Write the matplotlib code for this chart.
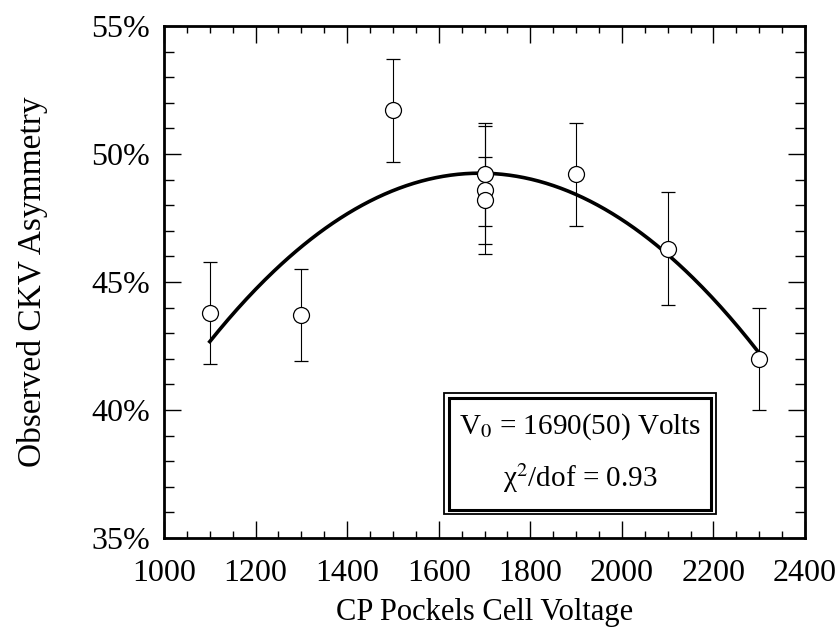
import matplotlib.pyplot as plt
import numpy as np
from matplotlib.ticker import MultipleLocator, FuncFormatter
from matplotlib.patches import Rectangle

plt.rcParams['font.family'] = ['Liberation Serif', 'DejaVu Serif']
plt.rcParams['mathtext.fontset'] = 'stix'

# measured asymmetry (%) vs Pockels cell voltage
voltage = [1100, 1300, 1500, 1700, 1700, 1700, 1900, 2100, 2300]
asym = [43.8, 43.7, 51.7, 49.2, 48.6, 48.2, 49.2, 46.3, 42.0]
asym_err = [2.0, 1.8, 2.0, 2.0, 2.5, 1.7, 2.0, 2.2, 2.0]

# quadratic fit: A(V) = peak - curv * (V - V0)^2
v0 = 1690
peak = 49.25
curv = 1.89e-5
fit_range = (1100, 2300)

fig = plt.figure(figsize=(8.38, 6.29), dpi=100)
ax = fig.add_axes([0.1957, 0.1447, 0.765, 0.814])

vv = np.linspace(fit_range[0], fit_range[1], 300)
ax.plot(vv, peak - curv * (vv - v0) ** 2, color='black', lw=2.6, zorder=2)

ax.errorbar(voltage, asym, yerr=asym_err, fmt='o', ms=11.5, mfc='white',
            mec='black', mew=0.9, ecolor='black', elinewidth=0.8,
            capsize=5, capthick=0.8, zorder=3)

ax.set_xlim(1000, 2400)
ax.set_ylim(35, 55)
ax.xaxis.set_major_locator(MultipleLocator(200))
ax.xaxis.set_minor_locator(MultipleLocator(50))
ax.yaxis.set_major_locator(MultipleLocator(5))
ax.yaxis.set_minor_locator(MultipleLocator(1))
ax.yaxis.set_major_formatter(FuncFormatter(lambda v, p: f'{v:.0f}%'))

ax.tick_params(which='both', direction='in', top=True, right=True,
               labelsize=23, width=1.0)
ax.tick_params(which='major', length=12.5)
ax.tick_params(axis='x', which='major', pad=15)
ax.tick_params(axis='y', which='major', pad=10)
ax.tick_params(axis='x', which='minor', length=5)
ax.tick_params(axis='y', which='minor', length=7)
for s in ax.spines.values():
    s.set_linewidth(2.0)

ax.set_xlabel('CP Pockels Cell Voltage', fontsize=22, labelpad=7)
ax.set_ylabel('Observed CKV Asymmetry', fontsize=24, labelpad=31)

# double-bordered fit result box
x0, y0 = 0.437, 0.046
w, h = 0.424, 0.237
ax.add_patch(Rectangle((x0, y0), w, h, transform=ax.transAxes, fill=True,
                       facecolor='white', edgecolor='black', lw=1.3, zorder=4))
dx, dy = 0.0075, 0.0095
ax.add_patch(Rectangle((x0 + dx, y0 + dy), w - 2 * dx, h - 2 * dy,
                       transform=ax.transAxes, fill=False, edgecolor='black',
                       lw=2.2, zorder=5))
ax.text(x0 + w / 2, y0 + h * 0.72, r'V$_0$ = 1690(50) Volts',
        transform=ax.transAxes, ha='center', va='center', fontsize=21, zorder=6)
ax.text(x0 + w / 2, y0 + h * 0.30, 'χ$^2$/dof = 0.93',
        transform=ax.transAxes, ha='center', va='center', fontsize=21, zorder=6)

fig.savefig('out.png', dpi=100)
